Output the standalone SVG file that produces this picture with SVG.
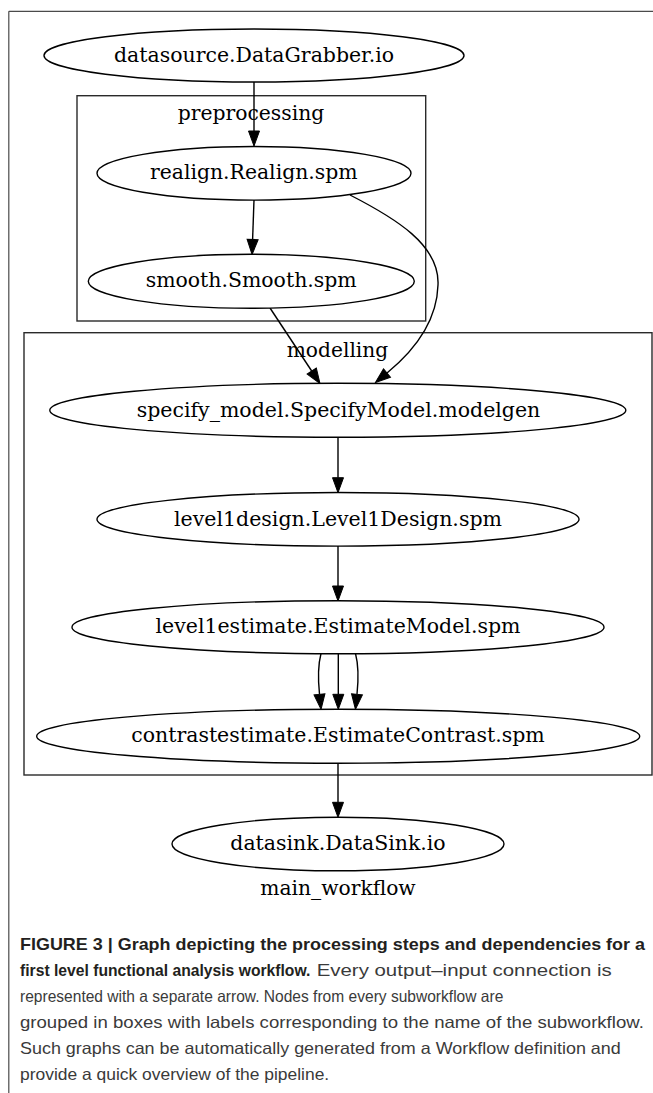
<svg xmlns="http://www.w3.org/2000/svg" width="653" height="1093" viewBox="0 0 653 1093">
<defs>
<style>
.frame{stroke:#4a4a4a;stroke-width:1.2;fill:none}
.cluster{fill:none;stroke:#2a2a2a;stroke-width:1.4}
.node{fill:#ffffff;stroke:#000000;stroke-width:1.4}
.lbl{font-family:"DejaVu Serif","Liberation Serif",serif;font-size:20px;fill:#000000;text-anchor:middle}
.edge{fill:none;stroke:#000000;stroke-width:1.4}
.capb{font-family:"Liberation Sans","Arial",sans-serif;font-size:16.5px;font-weight:bold;fill:#231f20}
.capr{font-family:"Liberation Sans","Arial",sans-serif;font-size:16.5px;fill:#3a3a3a}
</style>
<marker id="ah" viewBox="0 0 15 11" refX="0" refY="5.5" markerWidth="15" markerHeight="11" markerUnits="userSpaceOnUse" orient="auto" overflow="visible">
<path d="M0,0 L15,5.5 L0,11 Z" fill="#000000" stroke="#000000" stroke-width="1"/>
</marker>
</defs>
<rect width="653" height="1093" fill="#ffffff"/>
<g id="frame">
<line class="frame" x1="8.8" y1="11.3" x2="653" y2="11.3"/>
<line class="frame" x1="8.8" y1="11.3" x2="8.8" y2="1093"/>
</g>
<g id="cluster_preprocessing">
<rect class="cluster" x="77" y="95.7" width="348.7" height="225.3"/>
<text class="lbl" x="251" y="120" textLength="146.6" lengthAdjust="spacingAndGlyphs">preprocessing</text>
</g>
<g id="cluster_modelling">
<rect class="cluster" x="24" y="332.7" width="628" height="442.3"/>
<text class="lbl" x="337.5" y="356.7" textLength="101.6" lengthAdjust="spacingAndGlyphs">modelling</text>
</g>
<g id="connectors">
<path class="edge" d="M254,82 L254,131" marker-end="url(#ah)"/>
<path class="edge" d="M254,200 L252.6,239.5" marker-end="url(#ah)"/>
<path class="edge" d="M270,308 L311.7,371" marker-end="url(#ah)"/>
<path class="edge" d="M350,195 C395,218 440,245 438,285 C437,320 415,350 387,373" marker-end="url(#ah)"/>
<path class="edge" d="M338,437.3 L338,477.7" marker-end="url(#ah)"/>
<path class="edge" d="M338,546 L338,586" marker-end="url(#ah)"/>
<path class="edge" d="M321,653.5 C318,665 318,680 319.5,694.3" marker-end="url(#ah)"/>
<path class="edge" d="M338.3,653.5 L338.3,694.3" marker-end="url(#ah)"/>
<path class="edge" d="M355.5,653.5 C358.5,665 358.5,680 357,694.3" marker-end="url(#ah)"/>
<path class="edge" d="M338,763.3 L338,802.3" marker-end="url(#ah)"/>
</g>
<g id="node_datasource">
<ellipse class="node" cx="254" cy="55.5" rx="210" ry="26.5"/>
<text class="lbl" x="254" y="62" textLength="280" lengthAdjust="spacingAndGlyphs">datasource.DataGrabber.io</text>
</g>
<g id="node_realign">
<ellipse class="node" cx="254" cy="173.3" rx="157" ry="26.8"/>
<text class="lbl" x="253.8" y="179" textLength="207.7" lengthAdjust="spacingAndGlyphs">realign.Realign.spm</text>
</g>
<g id="node_smooth">
<ellipse class="node" cx="251.3" cy="281.3" rx="163" ry="27"/>
<text class="lbl" x="251.2" y="287.3" textLength="211" lengthAdjust="spacingAndGlyphs">smooth.Smooth.spm</text>
</g>
<g id="node_specify_model">
<ellipse class="node" cx="337.8" cy="410.3" rx="288" ry="27"/>
<text class="lbl" x="338.5" y="416.7" textLength="403.6" lengthAdjust="spacingAndGlyphs">specify_model.SpecifyModel.modelgen</text>
</g>
<g id="node_level1design">
<ellipse class="node" cx="338" cy="519.3" rx="241" ry="26.8"/>
<text class="lbl" x="338" y="525.5" textLength="328" lengthAdjust="spacingAndGlyphs">level1design.Level1Design.spm</text>
</g>
<g id="node_level1estimate">
<ellipse class="node" cx="338" cy="627.2" rx="266" ry="26.5"/>
<text class="lbl" x="338" y="633" textLength="365" lengthAdjust="spacingAndGlyphs">level1estimate.EstimateModel.spm</text>
</g>
<g id="node_contrastestimate">
<ellipse class="node" cx="338.2" cy="736.2" rx="301.5" ry="27"/>
<text class="lbl" x="338" y="742" textLength="413.6" lengthAdjust="spacingAndGlyphs">contrastestimate.EstimateContrast.spm</text>
</g>
<g id="node_datasink">
<ellipse class="node" cx="338" cy="844" rx="166" ry="26.8"/>
<text class="lbl" x="338" y="850" textLength="215.4" lengthAdjust="spacingAndGlyphs">datasink.DataSink.io</text>
</g>
<g id="graph_label">
<text class="lbl" x="338" y="895" textLength="155.4" lengthAdjust="spacingAndGlyphs">main_workflow</text>
</g>
<g id="caption">
<text class="capb" x="20" y="950" textLength="625" lengthAdjust="spacingAndGlyphs">FIGURE 3 | Graph depicting the processing steps and dependencies for a</text>
<text class="capb" x="20" y="976" textLength="290.4" lengthAdjust="spacingAndGlyphs">first level functional analysis workflow.</text>
<text class="capr" x="316.7" y="976" textLength="295" lengthAdjust="spacingAndGlyphs">Every output–input connection is</text>
<text class="capr" x="20" y="1002" textLength="483.3" lengthAdjust="spacingAndGlyphs">represented with a separate arrow. Nodes from every subworkflow are</text>
<text class="capr" x="20" y="1028" textLength="623.8" lengthAdjust="spacingAndGlyphs">grouped in boxes with labels corresponding to the name of the subworkflow.</text>
<text class="capr" x="20" y="1054" textLength="600.8" lengthAdjust="spacingAndGlyphs">Such graphs can be automatically generated from a Workflow definition and</text>
<text class="capr" x="20" y="1080" textLength="309.2" lengthAdjust="spacingAndGlyphs">provide a quick overview of the pipeline.</text>
</g>
</svg>
